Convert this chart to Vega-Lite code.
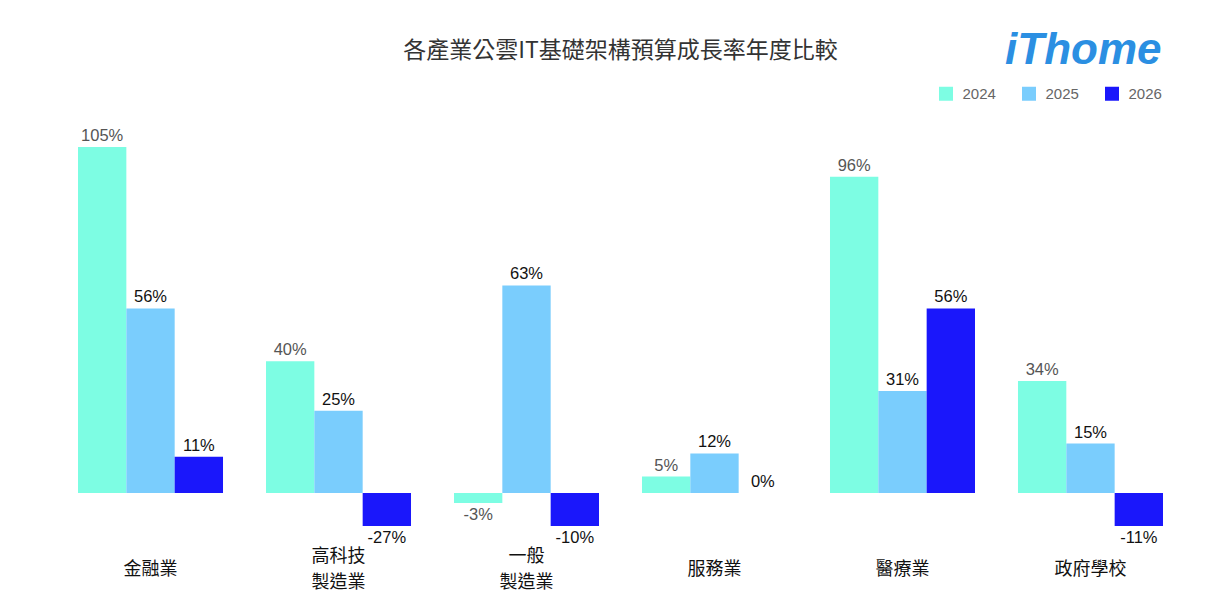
{
  "$schema": "https://vega.github.io/schema/vega-lite/v6.json",
  "width": 1128,
  "height": 379,
  "autosize": {"type": "none"},
  "padding": {"left": 56.5, "top": 147, "right": 21.5, "bottom": 83},
  "background": "white",
  "title": {
    "text": "各產業公雲IT基礎架構預算成長率年度比較",
    "font": "Noto Sans CJK TC",
    "fontSize": 23,
    "fontWeight": "normal",
    "color": "#333333",
    "anchor": "middle",
    "offset": -34
  },
  "config": {"view": {"stroke": null}},
  "data": {
    "values": [
      {"sector": "金融業", "year": "2024", "value": 105},
      {"sector": "金融業", "year": "2025", "value": 56},
      {"sector": "金融業", "year": "2026", "value": 11},
      {"sector": "高科技\n製造業", "year": "2024", "value": 40},
      {"sector": "高科技\n製造業", "year": "2025", "value": 25},
      {"sector": "高科技\n製造業", "year": "2026", "value": -27},
      {"sector": "一般\n製造業", "year": "2024", "value": -3},
      {"sector": "一般\n製造業", "year": "2025", "value": 63},
      {"sector": "一般\n製造業", "year": "2026", "value": -10},
      {"sector": "服務業", "year": "2024", "value": 5},
      {"sector": "服務業", "year": "2025", "value": 12},
      {"sector": "服務業", "year": "2026", "value": 0},
      {"sector": "醫療業", "year": "2024", "value": 96},
      {"sector": "醫療業", "year": "2025", "value": 31},
      {"sector": "醫療業", "year": "2026", "value": 56},
      {"sector": "政府學校", "year": "2024", "value": 34},
      {"sector": "政府學校", "year": "2025", "value": 15},
      {"sector": "政府學校", "year": "2026", "value": -11}
    ]
  },
  "transform": [{"calculate": "datum.value + '%'", "as": "label"}],
  "encoding": {
    "x": {
      "field": "sector",
      "type": "nominal",
      "sort": null,
      "scale": {"paddingInner": 0.2287, "paddingOuter": 0.1144},
      "axis": {
        "title": null,
        "domain": false,
        "ticks": false,
        "labelAngle": 0,
        "labelFont": "Noto Sans CJK TC",
        "labelFontSize": 18,
        "labelColor": "#111111",
        "labelBaseline": "middle",
        "labelPadding": {"condition": {"test": "indexof(datum.value, '\\n') >= 0", "value": 30}, "value": 43},
        "labelLineHeight": 26,
        "labelExpr": "split(datum.label, '\\n')"
      }
    },
    "xOffset": {"field": "year", "type": "nominal", "sort": ["2024", "2025", "2026"], "scale": {"paddingInner": 0, "paddingOuter": 0}},
    "y": {
      "field": "value",
      "type": "quantitative",
      "scale": {"domain": [-10, 105], "clamp": true, "nice": false, "zero": true},
      "axis": null
    }
  },
  "layer": [
    {
      "mark": {"type": "bar"},
      "encoding": {
        "color": {
          "field": "year",
          "type": "nominal",
          "scale": {"domain": ["2024", "2025", "2026"], "range": ["#7dfde3", "#7acdfd", "#1a17fb"]},
          "legend": {
            "orient": "none",
            "legendX": 882,
            "legendY": -118,
            "direction": "horizontal",
            "title": "iThome",
            "titleFont": "Liberation Sans",
            "titleFontStyle": "italic",
            "titleFontWeight": "bold",
            "titleFontSize": 44,
            "titleColor": "#2b8fe2",
            "titleAnchor": "end",
            "titlePadding": 13,
            "symbolType": "square",
            "symbolSize": 196,
            "symbolStrokeWidth": 0,
            "symbolOpacity": 1,
            "labelFont": "Liberation Sans",
            "labelFontSize": 15,
            "labelColor": "#666666",
            "labelOffset": 9,
            "columnPadding": 25
          }
        }
      }
    },
    {
      "transform": [{"filter": "datum.value >= 0"}],
      "mark": {"type": "text", "baseline": "bottom", "dy": -3, "font": "Liberation Sans", "fontSize": 16.5},
      "encoding": {
        "text": {"field": "label", "type": "nominal"},
        "color": {"condition": {"test": "datum.year == '2024'", "value": "#555555"}, "value": "#111111"}
      }
    },
    {
      "transform": [{"filter": "datum.value < 0"}],
      "mark": {"type": "text", "baseline": "top", "dy": 4, "font": "Liberation Sans", "fontSize": 16.5},
      "encoding": {
        "text": {"field": "label", "type": "nominal"},
        "color": {"condition": {"test": "datum.year == '2024'", "value": "#555555"}, "value": "#111111"}
      }
    }
  ]
}
